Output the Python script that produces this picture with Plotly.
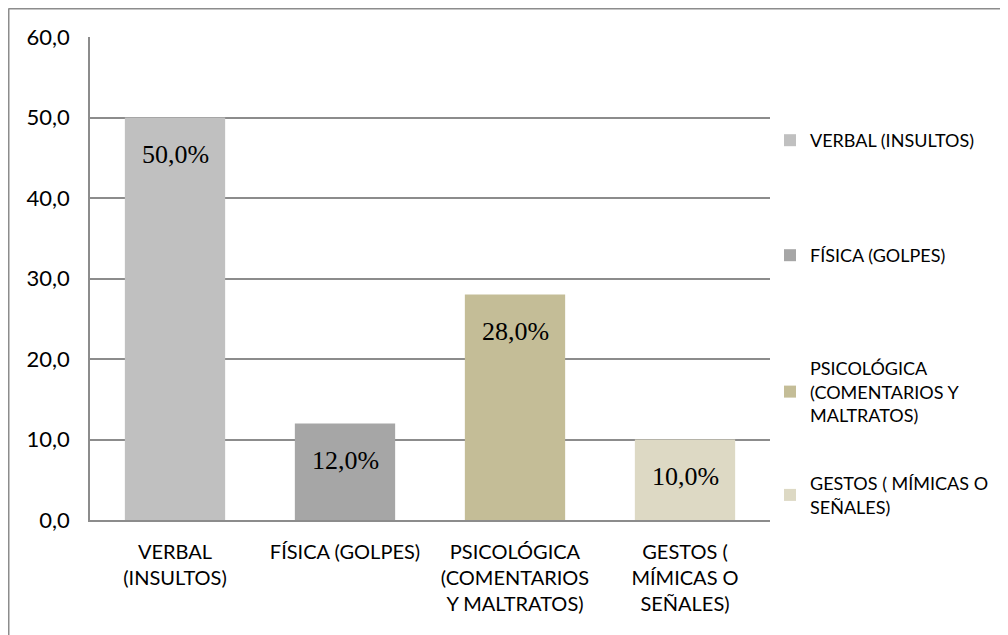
import plotly.graph_objects as go

categories = ["VERBAL (INSULTOS)", "FÍSICA (GOLPES)",
              "PSICOLÓGICA (COMENTARIOS Y MALTRATOS)", "GESTOS ( MÍMICAS O SEÑALES)"]
tick_labels = ["VERBAL<br>(INSULTOS)", "FÍSICA (GOLPES)",
               "PSICOLÓGICA<br>(COMENTARIOS<br>Y MALTRATOS)", "GESTOS (<br>MÍMICAS O<br>SEÑALES)"]
legend_labels = ["VERBAL (INSULTOS)", "FÍSICA (GOLPES)",
                 "PSICOLÓGICA<br>(COMENTARIOS Y<br>MALTRATOS)", "GESTOS ( MÍMICAS O<br>SEÑALES)"]
values = [50.0, 12.0, 28.0, 10.0]
bar_labels = ["50,0%", "12,0%", "28,0%", "10,0%"]
colors = ["#C0C0C0", "#A6A6A6", "#C4BD97", "#DDD9C4"]

# page has an 8px body margin, so the figure is drawn at (8, 8)
W, H = 1000, 627
ML, MR, MT, MB = 82, 238, 29, 115
PW, PH = W - ML - MR, H - MT - MB

SANS = "Lato, Open Sans, sans-serif"

fig = go.Figure()
legend_tops = [114, 229, 342, 457]
legend_names = ["legend", "legend2", "legend3", "legend4"]
for i, (cat, v, c) in enumerate(zip(categories, values, colors)):
    fig.add_trace(go.Bar(
        x=[cat], y=[v], name=legend_labels[i], marker=dict(color=c, line=dict(width=0)),
        legend=legend_names[i], showlegend=True, hoverinfo="skip",
    ))
    fig.add_annotation(x=cat, y=v, text=bar_labels[i], showarrow=False,
                       yanchor="middle", yshift=-37,
                       font=dict(family="Liberation Serif, Times New Roman, serif", size=26, color="#000"))

legend_layouts = {}
for i, ln in enumerate(legend_names):
    legend_layouts[ln] = dict(
        x=762 / W, y=1 - legend_tops[i] / H, xref="container", yref="container",
        xanchor="left", yanchor="top", bgcolor="rgba(0,0,0,0)", borderwidth=0,
        font=dict(family=SANS, size=18, color="#000"), itemwidth=30,
        itemclick=False, itemdoubleclick=False,
    )

# outer chart border (left and top edges visible)
px2x = lambda px: (px - ML) / PW
py2y = lambda py: (H - MB - py) / PH
fig.add_shape(type="line", xref="paper", yref="paper",
              x0=px2x(0.5), y0=py2y(0.5), x1=px2x(0.5), y1=py2y(H + 10),
              line=dict(color="#8C8C8C", width=2))
fig.add_shape(type="line", xref="paper", yref="paper",
              x0=px2x(0.5), y0=py2y(0.5), x1=px2x(W + 10), y1=py2y(0.5),
              line=dict(color="#8C8C8C", width=2))

fig.update_layout(
    width=W, height=H, margin=dict(l=ML, r=MR, t=MT, b=MB, autoexpand=False),
    paper_bgcolor="white", plot_bgcolor="white",
    barmode="overlay", bargap=0.41, separators=",.",
    font=dict(family=SANS, color="#000"),
    xaxis=dict(categoryorder="array", categoryarray=categories,
               tickmode="array", tickvals=categories, ticktext=tick_labels,
               showline=True, linecolor="#8C8C8C", linewidth=1.5, ticks="",
               showgrid=False, tickfont=dict(family=SANS, size=20, color="#000"),
               tickangle=0, ticklabelstandoff=13),
    yaxis=dict(range=[0, 60], dtick=10, tickformat=".1f", showgrid=True,
               gridcolor="#8C8C8C", gridwidth=1.5, showline=True, linecolor="#8C8C8C",
               linewidth=1.5, zeroline=False, ticks="",
               tickfont=dict(family=SANS, size=22, color="#000"), ticklabelstandoff=14),
    **legend_layouts,
)

fig.write_html("out.html")
